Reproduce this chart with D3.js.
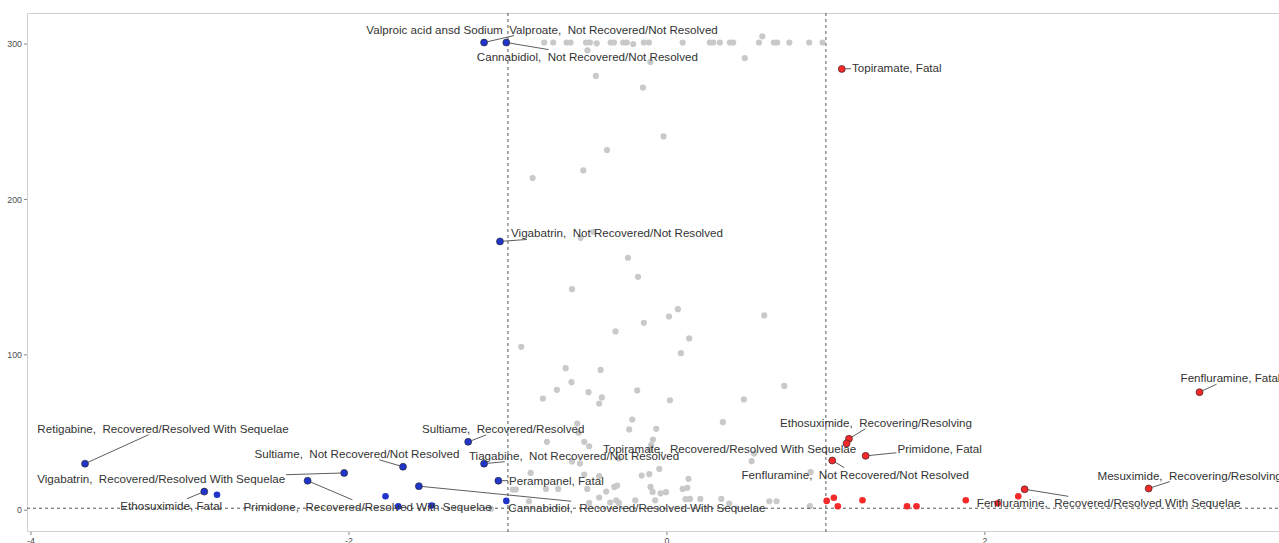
<!DOCTYPE html>
<html lang="en">
<head>
<meta charset="UTF-8">
<title>Volcano plot</title>
<script src="https://cdnjs.cloudflare.com/ajax/libs/d3/7.8.5/d3.min.js"></script>
<style>
  body { margin: 0; background: #fff; }
  svg { display: block; font-family: "Liberation Sans", Arial, sans-serif; }
  .lab { font-size: 11.6px; fill: #333; white-space: pre; }
  .tick-lab { font-size: 8.8px; fill: #4d4d4d; }
</style>
</head>
<body>
<svg id="chart" width="1279" height="543"></svg>
<script>
// ---- data ----
const xTicks = [-4, -2, 0, 2];
const yTicks = [0, 100, 200, 300];
const fcCut = 1;
const pCut = 1.3;

// non-significant points: log fold change and -log10(p)
const grayFC = [
  -0.772, -0.715, -0.631, -0.606, -0.509, -0.484, -0.442, -0.354, -0.333, -0.275, -0.253, -0.212,
  -0.145, -0.113, 0.099, 0.270, 0.291, 0.333, 0.396, 0.417, 0.579, 0.600, 0.673, 0.694, 0.770,
  0.895, 0.979,
  -0.50, -0.104, 0.49, -0.447, -0.151, -0.021, -0.377, -0.526, -0.845, -0.543, -0.463, -0.245,
  -0.182, -0.597, 0.069, 0.013, 0.612, -0.145, -0.323, 0.140, -0.916, 0.088, -0.637, -0.417,
  -0.600, 0.738, -0.692, -0.493, -0.187, -0.409, -0.780, 0.019, 0.484, -0.426, -0.218, -0.564,
  0.352, -0.555, -0.237, -0.067, -0.088, -0.755, -0.520, -0.489, -0.099, -0.107, 0.549, -0.302,
  -0.597, -0.547, 0.533, -0.048, -0.857, -0.520, -0.426, -0.159, -0.111, 0.136, 0.904, -0.970,
  -0.950, -0.761, -0.684, -0.501, -0.331, -0.313, -0.103, -0.090, -0.040, -0.006, 0.099, 0.128,
  -0.382, -0.426, -0.357, -0.319, -0.302, -0.199, -0.074, -0.868, -0.489, 0.117, 0.145, 0.210,
  0.342, 0.392, 0.644, 0.690, 0.899, -1.107
];
const grayP = [
  301, 301, 301, 301, 301, 301, 300.5, 301, 301, 301, 301, 300,
  301, 301, 301, 301, 301, 301, 301, 301, 301, 305, 301, 301, 301,
  301, 301,
  296, 288.5, 291, 279.5, 272, 240.6, 231.8, 218.7, 213.8, 175.3, 179.2, 162.5,
  150.2, 142.3, 129.4, 124.7, 125.4, 120.6, 115.1, 110.6, 105.2, 101.1, 91.4, 90.3,
  82.4, 80.0, 77.5, 76.0, 77.1, 72.6, 71.9, 70.8, 71.3, 68.7, 58.4, 55.8,
  56.7, 49.8, 52.0, 52.4, 45.5, 44.0, 44.0, 41.2, 41.9, 39.1, 36.5, 33.3,
  31.4, 30.1, 31.6, 26.6, 24.0, 23.0, 21.9, 22.3, 23.2, 20.2, 24.5, 13.3,
  13.3, 13.7, 13.7, 13.7, 15.0, 15.9, 15.0, 11.8, 10.9, 11.6, 13.7, 14.4,
  12.0, 8.2, 5.0, 6.4, 4.7, 6.4, 6.4, 5.8, 4.7, 7.1, 7.3, 7.3,
  7.3, 4.3, 5.8, 5.8, 2.6, 1.0
];

// significant points (labelled ones carry drug + outcome)
const sigDrug = [
  "Valproic acid ansd Sodium  Valproate", "Cannabidiol", "Vigabatrin", "Retigabine", "Vigabatrin",
  "Sultiame", "Primidone", "Ethosuximide", "Sultiame", "Tiagabine", "Perampanel", "Cannabidiol",
  "", "", "", "", "",
  "Topiramate", "Fenfluramine", "Ethosuximide", "Topiramate", "Primidone", "Fenfluramine",
  "Mesuximide", "Fenfluramine",
  "", "", "", "", "", "", "", "", ""
];
const sigOutcome = [
  " Not Recovered/Not Resolved", " Not Recovered/Not Resolved", " Not Recovered/Not Resolved",
  " Recovered/Resolved With Sequelae", " Recovered/Resolved With Sequelae", " Not Recovered/Not Resolved",
  " Recovered/Resolved With Sequelae", "Fatal", " Recovered/Resolved", " Not Recovered/Not Resolved",
  "Fatal", " Recovered/Resolved With Sequelae",
  "", "", "", "", "",
  "Fatal", "Fatal", " Recovering/Resolving", " Recovered/Resolved With Sequelae", "Fatal",
  " Not Recovered/Not Resolved", " Recovering/Resolving", " Recovered/Resolved With Sequelae",
  "", "", "", "", "", "", "", "", ""
];
const sigFC = [
  -1.15, -1.01, -1.05, -3.66, -2.03, -1.66, -2.26, -2.91, -1.25, -1.15, -1.06, -1.56,
  -2.83, -1.77, -1.69, -1.48, -1.01,
  1.10, 3.35, 1.145, 1.13, 1.25, 1.04, 3.03, 2.25,
  2.21, 2.08, 1.88, 1.57, 1.51, 1.23, 1.005, 1.05, 1.075
];
const sigP = [
  301, 301, 173, 30, 24, 28, 19, 12, 44, 30, 19, 15.5,
  10, 9, 2.5, 3, 6,
  284, 76, 46, 43, 35, 32, 14, 13.5,
  9, 4.5, 6.4, 2.6, 2.6, 6.4, 6, 8, 2.6
];

// repel layout: label centre offset from its point, in pixels
const labelDx = [58, 81, 117, 78, -183, -46, 60, -33, 35, 90, 58, 218,
  0, 0, 0, 0, 0,
  55, 31, 27, -117, 74, 23, 41, 84];
const labelDy = [-13, 14, -8, -35, 6, -13, 26, 14, -13, -8, 0, 22,
  0, 0, 0, 0, 0,
  -1, -14, -16, 6, -7, 14, -13, 14];

// ---- layout ----
const svg = d3.select("#chart");
const x = d3.scaleLinear().domain([-4.025, 3.85]).range([27, 1279]);
const y = d3.scaleLinear().domain([-14, 320]).range([532, 13]);

// panel border
svg.append("path")
  .attr("d", `M1290,13.5H27.5V531.5H1290`)
  .attr("fill", "none")
  .attr("stroke", "#cfcfcf")
  .attr("stroke-width", 1);

// axes
const xAxis = svg.append("g").attr("transform", "translate(0,532)");
xAxis.selectAll("line").data(xTicks).enter().append("line")
  .attr("x1", d => x(d)).attr("x2", d => x(d))
  .attr("y1", 0).attr("y2", 3)
  .attr("stroke", "#333").attr("stroke-width", 0.6);
xAxis.selectAll("text").data(xTicks).enter().append("text")
  .attr("class", "tick-lab")
  .attr("x", d => x(d)).attr("y", 12)
  .attr("text-anchor", "middle")
  .text(d => d);

const yAxis = svg.append("g").attr("transform", "translate(27,0)");
yAxis.selectAll("line").data(yTicks).enter().append("line")
  .attr("x1", -3).attr("x2", 0)
  .attr("y1", d => y(d)).attr("y2", d => y(d))
  .attr("stroke", "#333").attr("stroke-width", 0.6);
yAxis.selectAll("text").data(yTicks).enter().append("text")
  .attr("class", "tick-lab")
  .attr("x", -5).attr("y", d => y(d))
  .attr("dy", "0.35em")
  .attr("text-anchor", "end")
  .text(d => d);

// grey points
const grey = grayFC.map((v, i) => ({ fc: v, p: grayP[i] }));
svg.append("g").selectAll("circle").data(grey).enter().append("circle")
  .attr("cx", d => x(d.fc)).attr("cy", d => y(d.p))
  .attr("r", 3.1)
  .attr("fill", "#c9c9c9");

// threshold lines
const guides = svg.append("g")
  .attr("stroke", "#444").attr("stroke-width", 0.9)
  .attr("stroke-dasharray", "3,3").attr("fill", "none");
[-fcCut, fcCut].forEach(v => {
  guides.append("line")
    .attr("x1", x(v)).attr("x2", x(v)).attr("y1", 13).attr("y2", 532);
});
guides.append("line")
  .attr("x1", 27).attr("x2", 1279).attr("y1", y(pCut)).attr("y2", y(pCut));

// significant points
const sig = sigFC.map((v, i) => ({
  fc: v, p: sigP[i], drug: sigDrug[i], outcome: sigOutcome[i],
  dx: labelDx[i] || 0, dy: labelDy[i] || 0
}));
svg.append("g").selectAll("circle").data(sig).enter().append("circle")
  .attr("cx", d => x(d.fc)).attr("cy", d => y(d.p))
  .attr("r", d => d.drug ? 3.5 : 3.3)
  .attr("fill", d => d.fc < 0 ? "#2136c8" : "#f3292a")
  .attr("stroke", d => d.drug ? "#222" : "none")
  .attr("stroke-width", 0.6);

// labels and segments (segment aims at label centre, stops at its box)
const labelled = sig.filter(d => d.drug);
const segs = svg.append("g");
const labs = svg.append("g");
labelled.forEach(d => {
  const px = x(d.fc), py = y(d.p);
  const t = labs.append("text")
    .attr("class", "lab")
    .attr("x", px + d.dx).attr("y", py + d.dy)
    .attr("dy", "0.35em")
    .attr("text-anchor", "middle")
    .text(`${d.drug}, ${d.outcome}`);
  const b = t.node().getBBox();
  const pad = 1;
  const x0 = b.x - pad, x1 = b.x + b.width + pad;
  const y0 = b.y + 1 - pad, y1 = b.y + b.height - 1 + pad;
  const cx = (x0 + x1) / 2, cy = (y0 + y1) / 2;
  const vx = cx - px, vy = cy - py;
  // point inside the box: no segment
  if (px >= x0 && px <= x1 && py >= y0 && py <= y1) return;
  let tHit = 1;
  if (vx !== 0) {
    [x0, x1].forEach(ex => {
      const tt = (ex - px) / vx;
      const yy = py + tt * vy;
      if (tt > 0 && tt < tHit && yy >= y0 && yy <= y1) tHit = tt;
    });
  }
  if (vy !== 0) {
    [y0, y1].forEach(ey => {
      const tt = (ey - py) / vy;
      const xx = px + tt * vx;
      if (tt > 0 && tt < tHit && xx >= x0 && xx <= x1) tHit = tt;
    });
  }
  const ex = px + vx * tHit, ey = py + vy * tHit;
  const len = Math.hypot(ex - px, ey - py);
  if (len > 6) {
    const k = 3.5 / len;
    segs.append("line")
      .attr("x1", px + (ex - px) * k).attr("y1", py + (ey - py) * k)
      .attr("x2", ex).attr("y2", ey)
      .attr("stroke", "#333").attr("stroke-width", 0.8);
  }
});
</script>
</body>
</html>
